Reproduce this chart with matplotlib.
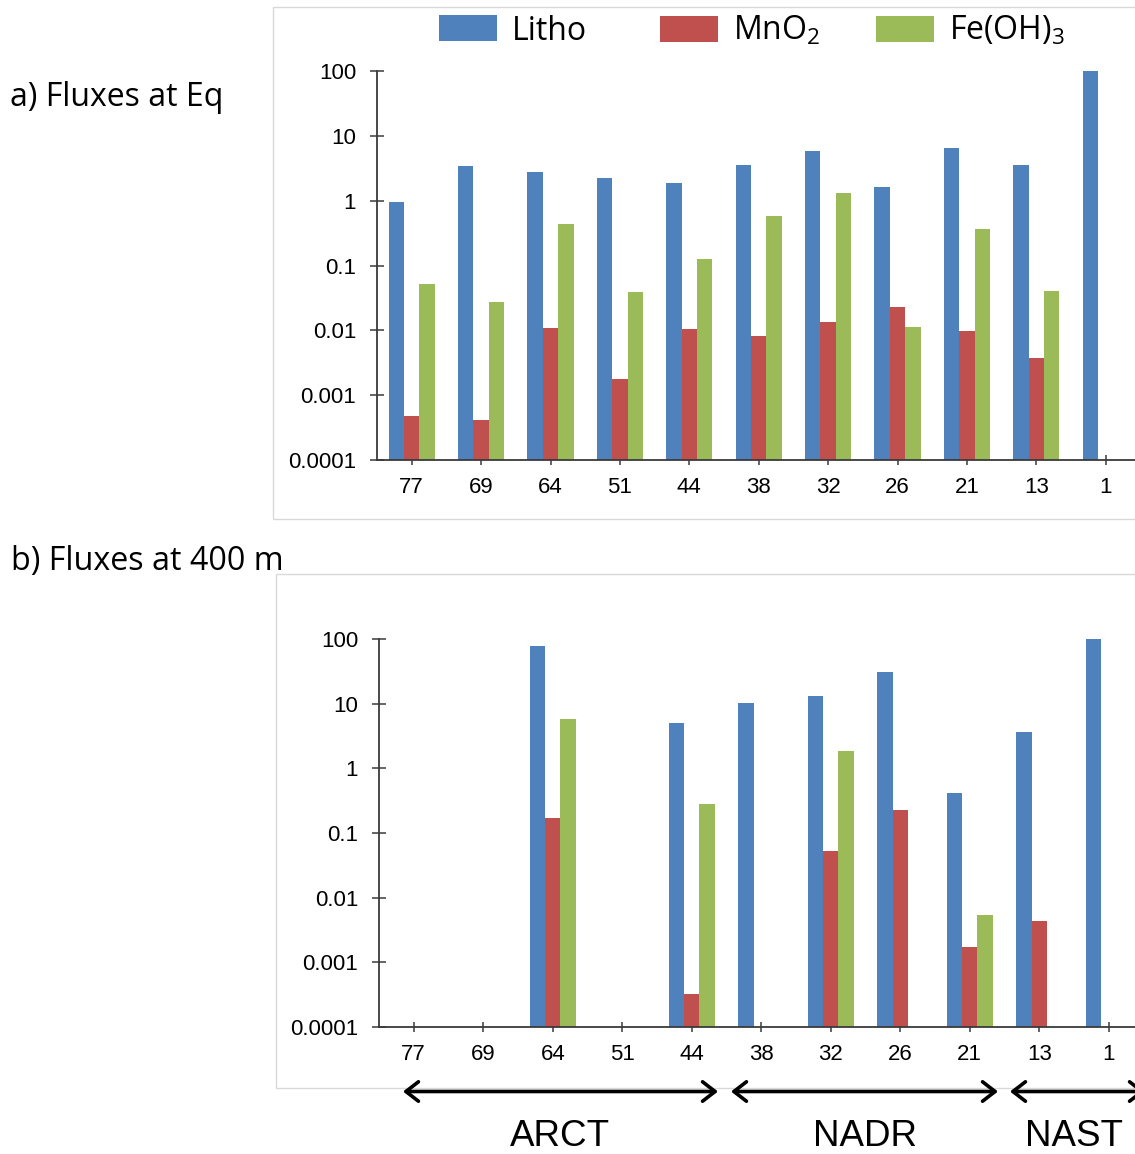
import numpy as np
import matplotlib
matplotlib.use("Agg")
import matplotlib.pyplot as plt
from matplotlib.patches import Rectangle, FancyArrowPatch, ArrowStyle

# ---------------- data ----------------
stations = ["77", "69", "64", "51", "44", "38", "32", "26", "21", "13", "1"]
series_names = ["Litho", "MnO$_\\mathregular{2}$", "Fe(OH)$_\\mathregular{3}$"]
nan = np.nan

eq_litho = [0.95, 3.46, 2.74, 2.21, 1.85, 3.59, 5.83, 1.61, 6.49, 3.51, 100]
eq_mno2 = [0.00048, 0.00041, 0.0107, 0.0018, 0.0104, 0.0081, 0.0136, 0.0232, 0.0096, 0.0037, nan]
eq_feoh3 = [0.052, 0.0273, 0.436, 0.039, 0.124, 0.58, 1.31, 0.0111, 0.37, 0.0404, nan]

m400_litho = [nan, nan, 78, nan, 5.1, 10.1, 13.3, 30.9, 0.41, 3.6, 100]
m400_mno2 = [nan, nan, 0.17, nan, 0.00032, nan, 0.052, 0.227, 0.0017, 0.0043, nan]
m400_feoh3 = [nan, nan, 5.8, nan, 0.28, nan, 1.85, nan, 0.00546, nan, nan]

ytick_vals = [1e-4, 1e-3, 1e-2, 1e-1, 1, 10, 100]
ytick_labels = ["0.0001", "0.001", "0.01", "0.1", "1", "10", "100"]

provinces = ["ARCT", "NADR", "NAST"]
panel_titles = ["a) Fluxes at Eq", "b) Fluxes at 400 m"]

colors = ["#4F81BD", "#C0504D", "#9BBB59"]

# ---------------- figure ----------------
W, H = 1135, 1154
fig = plt.figure(figsize=(W / 100, H / 100), dpi=100)
plt.rcParams["mathtext.fontset"] = "custom"
plt.rcParams["mathtext.rm"] = "Open Sans"


def fx(px):
    return px / W


def fy(py):
    return 1 - py / H


# panel borders (extend past right edge)
for (x0, y0, y1) in [(273, 7, 519), (275.5, 574, 1087.5)]:
    fig.add_artist(Rectangle((fx(x0), fy(y1)), 1.0, (y1 - y0) / H,
                             transform=fig.transFigure, fill=False,
                             ec="#d9d9d9", lw=1.0, zorder=0))

ax1 = fig.add_axes([fx(377), fy(460), (1140.4 - 377) / W, (460 - 71) / H])
ax2 = fig.add_axes([fx(379), fy(1027), (1143.5 - 379) / W, (1027 - 639) / H])

x = np.arange(len(stations))
w = 0.222
bars_handles = []
for ax, data in [(ax1, [eq_litho, eq_mno2, eq_feoh3]),
                 (ax2, [m400_litho, m400_mno2, m400_feoh3])]:
    ax.set_yscale("log")
    hs = []
    for k, vals in enumerate(data):
        b = ax.bar(x + (k - 1) * w, np.array(vals, dtype=float), w,
                   color=colors[k], edgecolor="none", zorder=2)
        hs.append(b)
    if not bars_handles:
        bars_handles = hs
    ax.set_ylim(1e-4, 100)
    ax.set_xlim(-0.5, len(stations) - 0.5)
    ax.set_yticks(ytick_vals)
    ax.set_yticklabels(ytick_labels)
    ax.yaxis.set_minor_locator(matplotlib.ticker.NullLocator())
    ax.set_xticks(x)
    ax.set_xticklabels(stations)
    for s in ["top", "right"]:
        ax.spines[s].set_visible(False)
    for s in ["left", "bottom"]:
        ax.spines[s].set_color("#3a3a3a")
        ax.spines[s].set_linewidth(1.3)
        ax.spines[s].set_zorder(3)
    ax.tick_params(axis="y", direction="inout", length=10, width=1.1,
                   color="#3a3a3a", pad=10, labelsize=16)
    ax.tick_params(axis="x", direction="inout", length=7, width=1.1,
                   color="#3a3a3a", pad=9, labelsize=16)
    for lab in ax.get_xticklabels() + ax.get_yticklabels():
        lab.set_family("Liberation Sans")
    ax.patch.set_alpha(0)

# legend: one entry per legend box placed like the original
leg_x = [439, 660, 876]
fs_leg = 23
fs_px = fs_leg * 100 / 72
for k in range(3):
    leg = fig.legend([bars_handles[k]], [series_names[k]], loc="center left",
                     bbox_to_anchor=(fx(leg_x[k]), fy(31)), frameon=False,
                     borderpad=0, borderaxespad=0,
                     prop={"family": "Open Sans", "size": fs_leg},
                     handlelength=58 / fs_px, handleheight=28 / fs_px,
                     handletextpad=15 / fs_px)

# panel titles
fig.text(fx(10), fy(106), panel_titles[0], ha="left", va="baseline",
         family="Open Sans", fontsize=23)
fig.text(fx(11), fy(570), panel_titles[1], ha="left", va="baseline",
         family="Open Sans", fontsize=23.2)

# province arrows
arrow_spans = [(403, 718), (731, 998), (1010, 1145)]
label_x = [560, 865, 1074]
style = ArrowStyle("<->", head_length=0.45, head_width=0.35)
for (a, b), lx, name in zip(arrow_spans, label_x, provinces):
    fig.add_artist(FancyArrowPatch((fx(a), fy(1091.5)), (fx(b), fy(1091.5)),
                                   transform=fig.transFigure,
                                   arrowstyle=style, mutation_scale=20,
                                   lw=2.6, color="black",
                                   shrinkA=0, shrinkB=0))
    fig.text(fx(lx), fy(1136), name, ha="center", va="center",
             family="Liberation Sans", fontsize=26.5)

fig.savefig("out.png", dpi=100)
